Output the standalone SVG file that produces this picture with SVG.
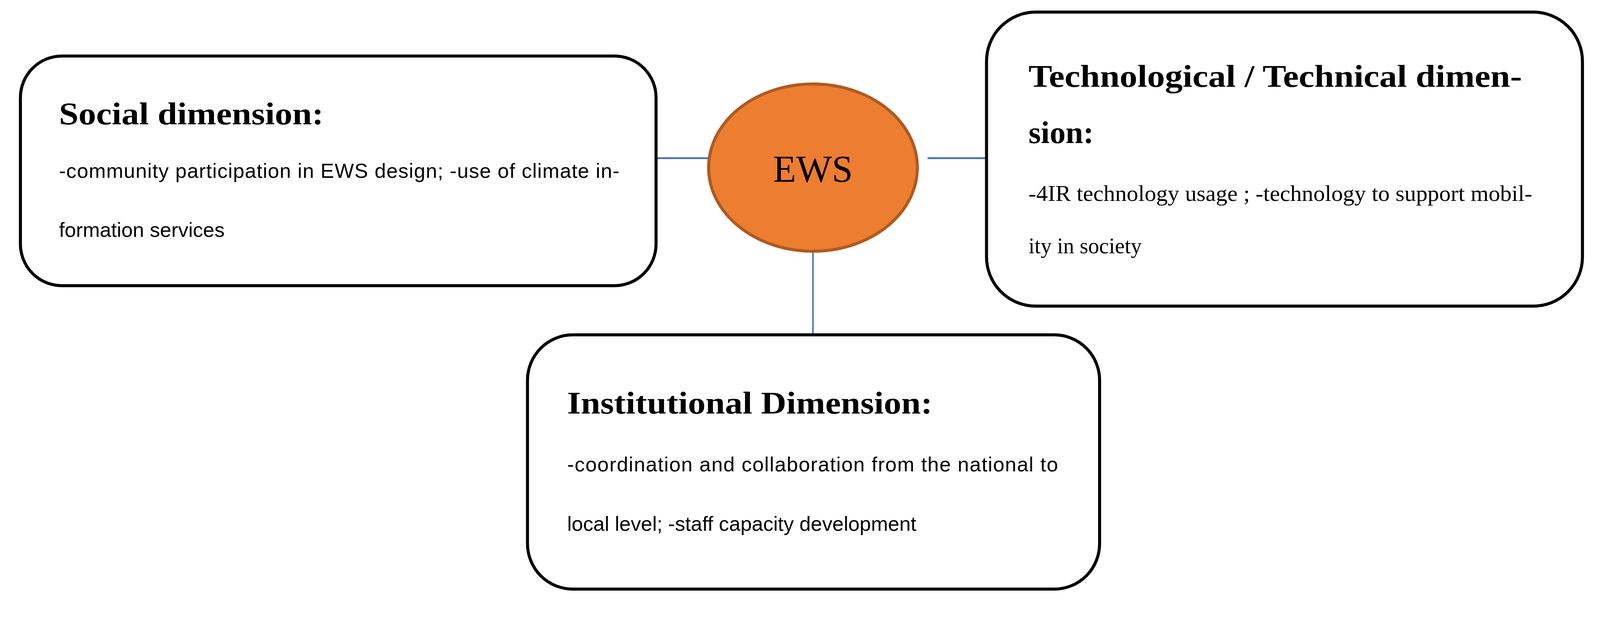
<svg xmlns="http://www.w3.org/2000/svg" width="4231" height="1599" viewBox="0 0 4231 1599">
<style>
.box{fill:#fff;stroke:#000;stroke-width:8}
.t{font-family:"Liberation Serif",serif;font-weight:bold;font-size:84px;fill:#000}
.s{font-family:"Liberation Sans",Arial,sans-serif;font-size:54px;fill:#000}
.sr{font-family:"Liberation Serif",serif;font-size:58px;fill:#000}
.c{stroke:#4472C4;fill:none}
</style>
<rect width="4231" height="1599" fill="#fff"/>
<g transform="scale(0.968)">
<g id="connectors">
<line class="c" x1="1735" y1="418" x2="1875" y2="418" stroke-width="5"/>
<line class="c" x1="2453" y1="418" x2="2606" y2="418" stroke-width="5"/>
<line class="c" x1="2150" y1="664" x2="2150" y2="890" stroke-width="4"/>
</g>
<g id="social">
<rect class="box" x="54" y="148" width="1681" height="607" rx="110"/>
<text class="t" x="156" y="329" textLength="700" lengthAdjust="spacingAndGlyphs">Social dimension:</text>
<text class="s" x="156" y="470" textLength="1482" lengthAdjust="spacing">-community participation in EWS design; -use of climate in-</text>
<text class="s" x="156" y="626">formation services</text>
</g>
<g id="ews">
<ellipse cx="2150" cy="443" rx="276" ry="221" fill="#ED7D31" stroke="#AE5A21" stroke-width="8"/>
<text x="2150" y="480" text-anchor="middle" font-family="Liberation Serif,serif" font-size="100">EWS</text>
</g>
<g id="tech">
<rect class="box" x="2609" y="32" width="1576" height="777" rx="130"/>
<text class="t" x="2720" y="229" textLength="1305" lengthAdjust="spacingAndGlyphs">Technological / Technical dimen-</text>
<text class="t" x="2720" y="378">sion:</text>
<text class="sr" x="2720" y="531" textLength="1332" lengthAdjust="spacingAndGlyphs">-4IR technology usage ; -technology to support mobil-</text>
<text class="sr" x="2720" y="669">ity in society</text>
</g>
<g id="institutional">
<rect class="box" x="1395" y="885" width="1513" height="672" rx="120"/>
<text class="t" x="1500" y="1093" textLength="966" lengthAdjust="spacingAndGlyphs">Institutional Dimension:</text>
<text class="s" x="1500" y="1246" textLength="1298" lengthAdjust="spacing">-coordination and collaboration from the national to</text>
<text class="s" x="1500" y="1403">local level; -staff capacity development</text>
</g>
</g>
</svg>
